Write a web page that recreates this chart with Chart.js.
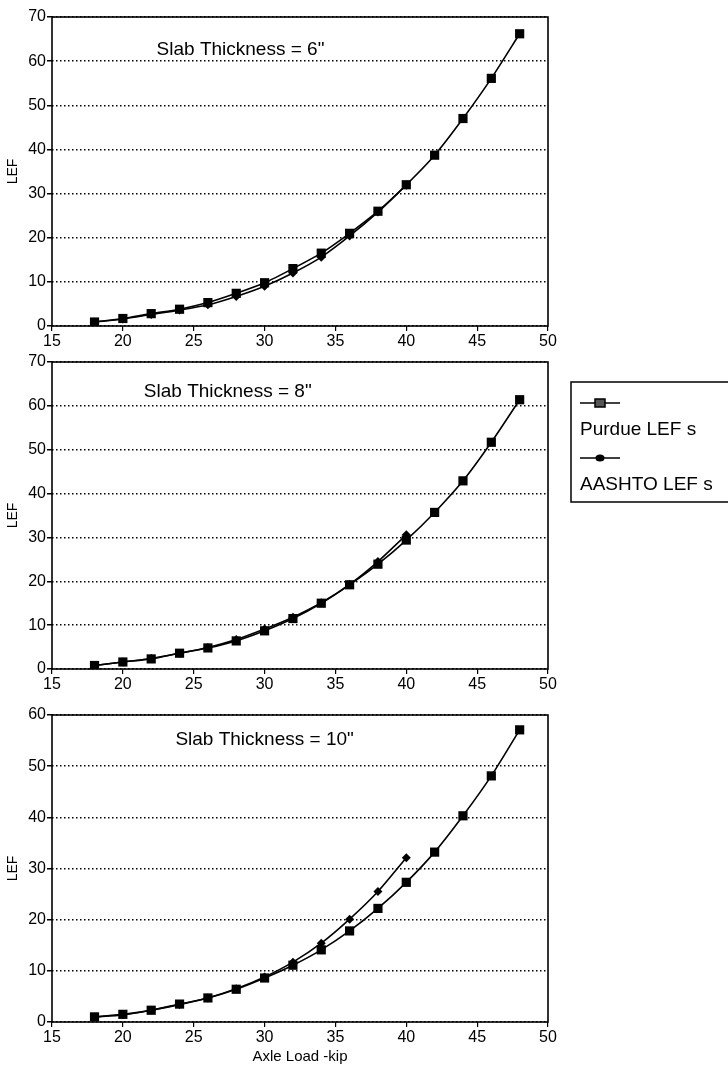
<!DOCTYPE html>
<html>
<head>
<meta charset="utf-8">
<title>LEF vs Axle Load</title>
<script src="https://cdn.jsdelivr.net/npm/chart.js@4.4.1/dist/chart.umd.min.js"></script>
<style>
  body { margin: 0; background: #fff; width: 728px; height: 1066px; position: relative; overflow: hidden; }
  canvas { position: absolute; left: 0; }
</style>
</head>
<body>
<canvas id="slab6" width="728" height="350" style="top:0px"></canvas>
<canvas id="slab8" width="728" height="343" style="top:350px"></canvas>
<canvas id="slab10" width="728" height="373" style="top:693px"></canvas>
<script>
// axle loads (kip) - Purdue runs to 48, AASHTO stops at 40
const purdueLoads = [18, 20, 22, 24, 26, 28, 30, 32, 34, 36, 38, 40, 42, 44, 46, 48];
const aashtoLoads = [18, 20, 22, 24, 26, 28, 30, 32, 34, 36, 38, 40];

// 6" slab
const purdue6 = [0.9, 1.7, 2.8, 3.8, 5.3, 7.4, 9.8, 13.0, 16.5, 21.0, 26.0, 32.0, 38.7, 47.0, 56.1, 66.2];
const aashto6 = [0.9, 1.6, 2.6, 3.6, 4.8, 6.7, 9.0, 12.0, 15.6, 20.4, 25.8, 31.9];
// 8" slab
const purdue8 = [0.8, 1.6, 2.3, 3.6, 4.8, 6.4, 8.7, 11.5, 15.0, 19.2, 23.9, 29.4, 35.7, 42.9, 51.7, 61.4];
const aashto8 = [0.8, 1.6, 2.4, 3.6, 4.9, 6.7, 9.1, 11.8, 15.1, 19.3, 24.5, 30.6];
// 10" slab
const purdue10 = [1.0, 1.5, 2.3, 3.5, 4.7, 6.4, 8.6, 11.1, 14.1, 17.8, 22.2, 27.3, 33.2, 40.3, 48.1, 57.1];
const aashto10 = [1.0, 1.4, 2.3, 3.4, 4.7, 6.5, 8.8, 11.7, 15.4, 20.1, 25.5, 32.1];

const xTicks = [15, 20, 25, 30, 35, 40, 45, 50];
const seriesNames = ['Purdue LEF s', 'AASHTO LEF s'];

const FONT = '"Liberation Sans", Arial, Helvetica, sans-serif';
Chart.defaults.font.family = FONT;
Chart.defaults.color = '#000';

// box round the plot area
const frame = {
  id: 'frame',
  afterDatasetsDraw(chart) {
    const a = chart.chartArea, ctx = chart.ctx;
    ctx.save();
    ctx.strokeStyle = '#000';
    ctx.lineWidth = 1.6;
    ctx.strokeRect(a.left, a.top, a.right - a.left, a.bottom - a.top);
    ctx.restore();
  }
};

// "Slab Thickness = .." caption placed in data units
const slabLabel = {
  id: 'slabLabel',
  afterDraw(chart, args, opts) {
    if (!opts.text) return;
    const ctx = chart.ctx;
    ctx.save();
    ctx.font = '19px ' + FONT;
    ctx.fillStyle = '#000';
    ctx.textAlign = 'center';
    ctx.textBaseline = 'middle';
    ctx.fillText(opts.text, chart.scales.x.getPixelForValue(opts.at[0]), chart.scales.y.getPixelForValue(opts.at[1]));
    ctx.restore();
  }
};

// boxed legend to the right of the middle chart
const sideLegend = {
  id: 'sideLegend',
  afterDraw(chart, args, opts) {
    if (!opts.show) return;
    const ctx = chart.ctx;
    const left = 571, top = 32, bottom = 152;
    ctx.save();
    ctx.strokeStyle = '#000';
    ctx.lineWidth = 1.5;
    ctx.strokeRect(left, top, 200, bottom - top);

    ctx.lineWidth = 1.5;
    const rows = [top + 21, top + 76];
    rows.forEach((ry, i) => {
      ctx.beginPath();
      ctx.moveTo(580, ry);
      ctx.lineTo(620, ry);
      ctx.stroke();
      if (i === 0) {
        ctx.fillStyle = '#555';
        ctx.fillRect(595, ry - 4, 10, 8);
        ctx.strokeRect(595, ry - 4, 10, 8);
      } else {
        ctx.fillStyle = '#000';
        ctx.beginPath();
        ctx.ellipse(600, ry, 4.5, 3.5, 0, 0, Math.PI * 2);
        ctx.fill();
      }
      ctx.fillStyle = '#000';
      ctx.font = '19px ' + FONT;
      ctx.textBaseline = 'middle';
      ctx.textAlign = 'left';
      ctx.fillText(seriesNames[i], 580, ry + 27);
    });
    ctx.restore();
  }
};

function points(loads, vals) {
  return loads.map((x, i) => ({ x: x, y: vals[i] }));
}

function makeChart(id, purdue, aashto, cfg) {
  return new Chart(document.getElementById(id), {
    type: 'line',
    data: {
      datasets: [{
        label: seriesNames[0],
        data: points(purdueLoads, purdue),
        borderColor: '#000',
        backgroundColor: '#000',
        borderWidth: 1.6,
        pointStyle: 'rect',
        pointRadius: 6.5,
        pointBorderWidth: 0,
        tension: 0.25
      }, {
        label: seriesNames[1],
        data: points(aashtoLoads, aashto),
        borderColor: '#000',
        backgroundColor: '#000',
        borderWidth: 1.6,
        pointStyle: 'rectRot',
        pointRadius: 4.5,
        pointBorderWidth: 0,
        tension: 0.25
      }]
    },
    options: {
      responsive: false,
      animation: false,
      devicePixelRatio: 1,
      layout: { padding: { top: cfg.padTop, right: 180, left: 0, bottom: 0 } },
      scales: {
        x: {
          type: 'linear',
          min: 15,
          max: 50,
          afterBuildTicks: s => { s.ticks = xTicks.map(v => ({ value: v })); },
          afterFit: s => { s.height = cfg.xHeight; },
          grid: { drawOnChartArea: false, drawTicks: true, tickLength: 5, color: '#000', lineWidth: 1.2 },
          border: { display: false },
          ticks: { font: { size: 16 }, color: '#000', padding: 1, maxRotation: 0 },
          title: cfg.xTitle ? { display: true, text: cfg.xTitle, font: { size: 15 }, color: '#000', padding: { top: 2, bottom: 0 } } : { display: false }
        },
        y: {
          min: 0,
          max: cfg.yMax,
          ticks: { stepSize: 10, font: { size: 16 }, color: '#000', padding: 1 },
          afterFit: s => { s.width = 52; },
          grid: { drawTicks: true, tickLength: 5, color: '#000', lineWidth: 1.5 },
          border: { display: false, dash: [1.5, 2.5] },
          title: { display: true, text: 'LEF', font: { size: 14 }, color: '#000', padding: { top: 5, bottom: 0 } }
        }
      },
      plugins: {
        legend: { display: false },
        tooltip: { enabled: false },
        slabLabel: { text: cfg.caption, at: cfg.captionAt },
        sideLegend: { show: !!cfg.legend }
      }
    },
    plugins: [frame, slabLabel, sideLegend]
  });
}

makeChart('slab6', purdue6, aashto6, {
  yMax: 70, padTop: 17, xHeight: 24,
  caption: 'Slab Thickness = 6"', captionAt: [28.3, 62.5]
});
makeChart('slab8', purdue8, aashto8, {
  yMax: 70, padTop: 12, xHeight: 24, legend: true,
  caption: 'Slab Thickness = 8"', captionAt: [27.4, 63.2]
});
makeChart('slab10', purdue10, aashto10, {
  yMax: 60, padTop: 22, xHeight: 44, xTitle: 'Axle Load -kip',
  caption: 'Slab Thickness = 10"', captionAt: [30.0, 55.1]
});
</script>
</body>
</html>
